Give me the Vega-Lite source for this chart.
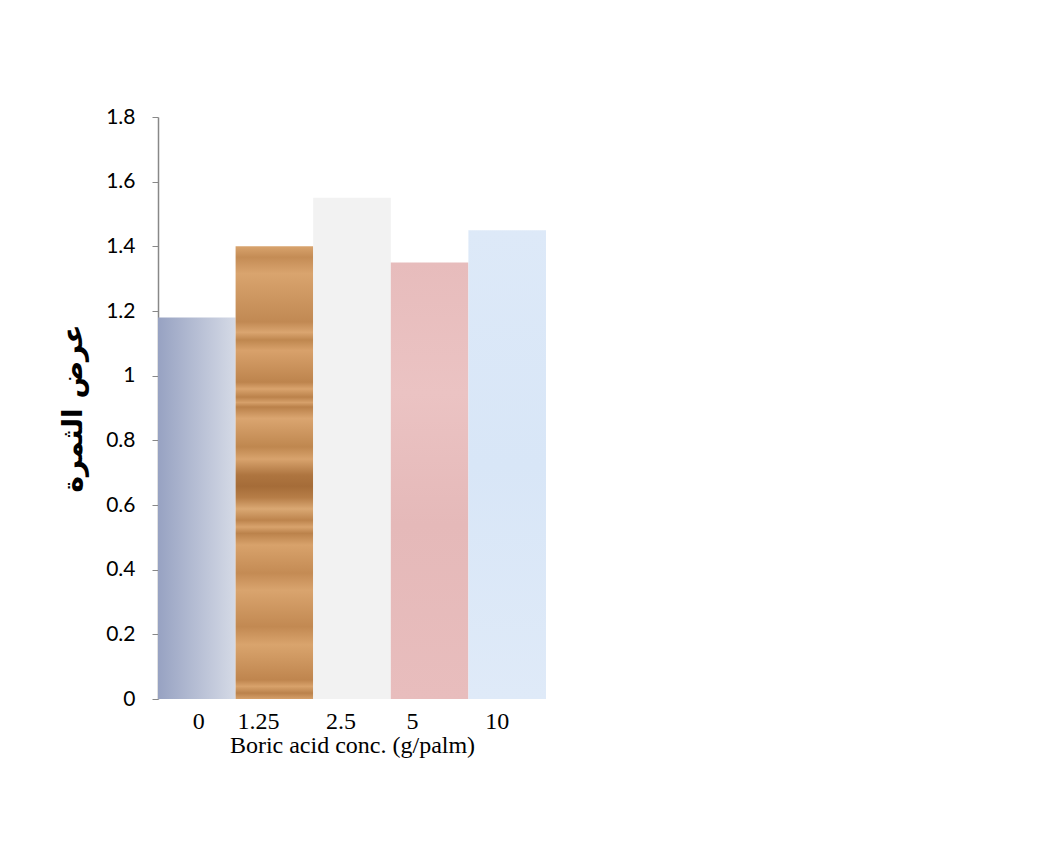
{
  "$schema": "https://vega.github.io/schema/vega-lite/v6.json",
  "autosize": {"type": "none"},
  "width": 388,
  "height": 582,
  "padding": {"left": 158, "top": 117, "right": 491, "bottom": 164},
  "background": "white",
  "config": {"view": {"stroke": null}},
  "data": {
    "values": [
      {"conc": "0", "width": 1.18},
      {"conc": "1.25", "width": 1.40},
      {"conc": "2.5", "width": 1.55},
      {"conc": "5", "width": 1.35},
      {"conc": "10", "width": 1.45}
    ]
  },
  "encoding": {
    "x": {
      "field": "conc",
      "type": "nominal",
      "sort": ["0", "1.25", "2.5", "5", "10"],
      "scale": {"paddingInner": 0, "paddingOuter": 0},
      "axis": {
        "title": "Boric acid conc. (g/palm)",
        "titleFont": "Liberation Serif",
        "titleFontSize": 24,
        "titleFontWeight": "normal",
        "titleColor": "#000000",
        "titlePadding": 0,
        "labelFont": "Liberation Serif",
        "labelFontSize": 24,
        "labelColor": "#000000",
        "labelAngle": 0,
        "labelPadding": 10,
        "labelOffset": {
          "condition": [
            {"test": "datum.value == '0'", "value": 2},
            {"test": "datum.value == '1.25'", "value": -16},
            {"test": "datum.value == '2.5'", "value": -11},
            {"test": "datum.value == '5'", "value": -17}
          ],
          "value": -10
        },
        "ticks": false,
        "domain": false,
        "grid": false
      }
    },
    "y": {
      "field": "width",
      "type": "quantitative",
      "scale": {"domain": [0, 1.8], "nice": false, "zero": true},
      "axis": {
        "title": "عرض الثمرة",
        "titleFont": "DejaVu Sans",
        "titleFontSize": 28,
        "titleFontWeight": "bold",
        "titleColor": "#000000",
        "titlePadding": 18,
        "values": [0, 0.2, 0.4, 0.6, 0.8, 1, 1.2, 1.4, 1.6, 1.8],
        "format": "~g",
        "labelFont": "Lato",
        "labelFontSize": 21,
        "labelColor": "#000000",
        "labelPadding": 17,
        "tickSize": 6,
        "tickColor": "#888888",
        "domainColor": "#888888",
        "domainWidth": 1.5,
        "grid": false
      }
    }
  },
  "layer": [
    {
      "transform": [{"filter": {"field": "conc", "equal": "0"}}],
      "mark": {
        "type": "bar",
        "color": {
          "gradient": "linear",
          "x1": 0, "y1": 0, "x2": 1, "y2": 0,
          "stops": [
            {"offset": 0, "color": "#97a2c2"},
            {"offset": 1, "color": "#d5dae6"}
          ]
        }
      }
    },
    {
      "transform": [{"filter": {"field": "conc", "equal": "1.25"}}],
      "mark": {
        "type": "bar",
        "color": {
          "gradient": "linear",
          "x1": 0, "y1": 0, "x2": 0, "y2": 1,
          "stops": [
            {"offset": 0, "color": "#d8a36d"},
            {"offset": 0.024, "color": "#c48c55"},
            {"offset": 0.06, "color": "#d9a46e"},
            {"offset": 0.167, "color": "#c18953"},
            {"offset": 0.19, "color": "#daa570"},
            {"offset": 0.207, "color": "#bf874f"},
            {"offset": 0.23, "color": "#d8a16b"},
            {"offset": 0.3, "color": "#bd844d"},
            {"offset": 0.315, "color": "#d9a36d"},
            {"offset": 0.333, "color": "#bb824b"},
            {"offset": 0.345, "color": "#d6a06a"},
            {"offset": 0.355, "color": "#ba814a"},
            {"offset": 0.38, "color": "#daa570"},
            {"offset": 0.443, "color": "#bf874f"},
            {"offset": 0.47, "color": "#d8a36d"},
            {"offset": 0.505, "color": "#ae7540"},
            {"offset": 0.53, "color": "#a56c38"},
            {"offset": 0.555, "color": "#b67d47"},
            {"offset": 0.58, "color": "#daa873"},
            {"offset": 0.605, "color": "#bd844d"},
            {"offset": 0.62, "color": "#d8a36d"},
            {"offset": 0.634, "color": "#bb824b"},
            {"offset": 0.66, "color": "#d8a26b"},
            {"offset": 0.722, "color": "#c48b54"},
            {"offset": 0.76, "color": "#d9a46e"},
            {"offset": 0.84, "color": "#c28952"},
            {"offset": 0.88, "color": "#d9a46d"},
            {"offset": 0.958, "color": "#bf854e"},
            {"offset": 0.972, "color": "#d8a26b"},
            {"offset": 0.987, "color": "#bb824b"},
            {"offset": 1, "color": "#d6a06a"}
          ]
        }
      }
    },
    {
      "transform": [{"filter": {"field": "conc", "equal": "2.5"}}],
      "mark": {"type": "bar", "color": "#f2f2f2"}
    },
    {
      "transform": [{"filter": {"field": "conc", "equal": "5"}}],
      "mark": {
        "type": "bar",
        "color": {
          "gradient": "linear",
          "x1": 0, "y1": 0, "x2": 0, "y2": 1,
          "stops": [
            {"offset": 0, "color": "#e7bcbc"},
            {"offset": 0.3, "color": "#ebc3c3"},
            {"offset": 0.6, "color": "#e5b9b9"},
            {"offset": 1, "color": "#e8bdbd"}
          ]
        }
      }
    },
    {
      "transform": [{"filter": {"field": "conc", "equal": "10"}}],
      "mark": {
        "type": "bar",
        "color": {
          "gradient": "linear",
          "x1": 0, "y1": 0, "x2": 0, "y2": 1,
          "stops": [
            {"offset": 0, "color": "#dde9f8"},
            {"offset": 0.5, "color": "#d8e6f7"},
            {"offset": 1, "color": "#dfeaf8"}
          ]
        }
      }
    }
  ]
}
